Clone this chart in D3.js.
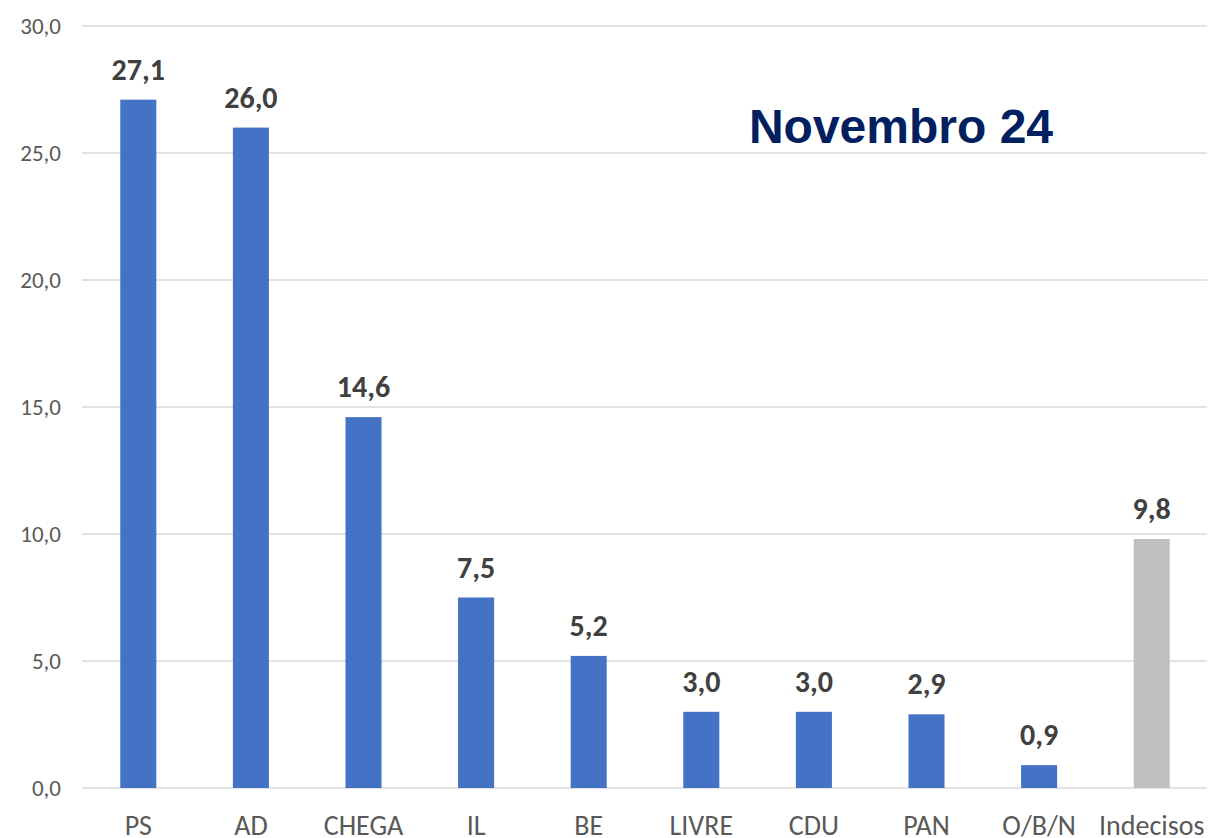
<!DOCTYPE html>
<html>
<head>
<meta charset="utf-8">
<script src="https://cdn.jsdelivr.net/npm/d3@7"></script>
<style>
  body { margin: 0; background: #fff; }
  svg { display: block; }
</style>
</head>
<body>
<svg width="1211" height="838"></svg>
<script>
// Data
const parties = ['PS', 'AD', 'CHEGA', 'IL', 'BE', 'LIVRE', 'CDU', 'PAN', 'O/B/N', 'Indecisos'];
const values  = [27.1, 26.0, 14.6, 7.5, 5.2, 3.0, 3.0, 2.9, 0.9, 9.8];
const yTicks  = [0, 5, 10, 15, 20, 25, 30];
const title   = 'Novembro 24';

const svg = d3.select('svg');
const fmt = v => v.toFixed(1).replace('.', ',');
const font = 'Carlito, "Open Sans", sans-serif';

const x = d3.scaleBand().domain(parties).range([82, 1208])
  .paddingInner(0.68).paddingOuter(0.34);
const y = d3.scaleLinear().domain([0, 30]).range([788, 26]);

// gridlines
svg.append('g').selectAll('line').data(yTicks).join('line')
  .attr('x1', 82).attr('x2', 1207)
  .attr('y1', d => y(d)).attr('y2', d => y(d))
  .attr('stroke', '#d9d9d9').attr('stroke-width', 1.5);

// y axis labels
const yAxis = svg.append('g').attr('transform', 'translate(61,0)')
  .call(d3.axisLeft(y).tickValues(yTicks).tickFormat(fmt).tickSize(0).tickPadding(0));
yAxis.select('.domain').remove();
yAxis.selectAll('text')
  .attr('font-family', font)
  .attr('font-size', 23).attr('fill', '#595959');

// x axis labels
const xAxis = svg.append('g').attr('transform', 'translate(0,788)')
  .call(d3.axisBottom(x).tickSize(0).tickPadding(27));
xAxis.select('.domain').remove();
xAxis.selectAll('text')
  .attr('font-family', font)
  .attr('font-size', 28).attr('fill', '#595959');

// bars
svg.append('g').selectAll('rect').data(parties).join('rect')
  .attr('x', d => x(d))
  .attr('width', x.bandwidth())
  .attr('y', (d, i) => y(values[i]))
  .attr('height', (d, i) => y(0) - y(values[i]))
  .attr('fill', d => d === 'Indecisos' ? '#bfbfbf' : '#4472c4');

// value labels
svg.append('g').selectAll('text').data(parties).join('text')
  .attr('x', d => x(d) + x.bandwidth() / 2)
  .attr('y', (d, i) => y(values[i]) - 20)
  .attr('text-anchor', 'middle')
  .attr('font-family', font)
  .attr('font-weight', 'bold')
  .attr('font-size', 30)
  .attr('fill', '#404040')
  .text((d, i) => fmt(values[i]));

// title
svg.append('text')
  .attr('x', 901).attr('y', 143)
  .attr('text-anchor', 'middle')
  .attr('font-family', '"Liberation Sans", Arial, sans-serif')
  .attr('font-weight', 'bold')
  .attr('font-size', 48)
  .attr('fill', '#002060')
  .text(title);
</script>
</body>
</html>
